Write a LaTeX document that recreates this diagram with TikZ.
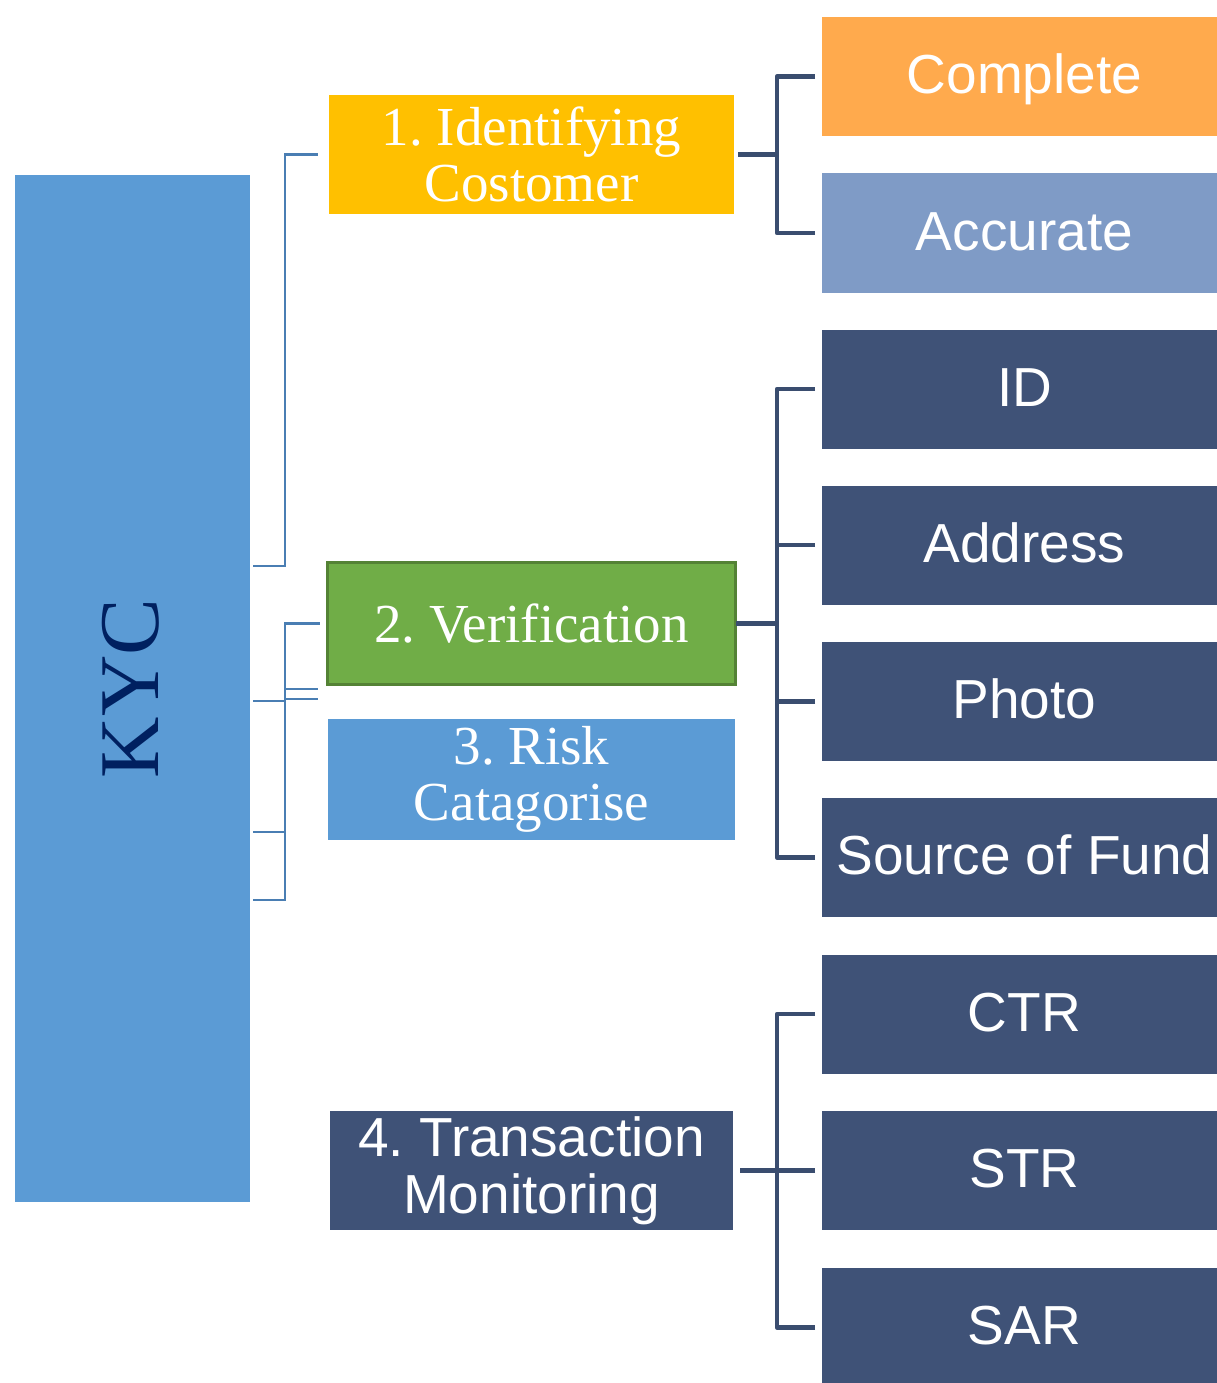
\documentclass[tikz,border=0pt]{standalone}
\usepackage{fontspec}
\setmainfont{Liberation Serif}
\setsansfont{Liberation Sans}
\frenchspacing
\definecolor{kycblue}{HTML}{5B9BD5}
\definecolor{kycnavy}{HTML}{002060}
\definecolor{gold}{HTML}{FFC000}
\definecolor{leaf}{HTML}{70AD47}
\definecolor{leafedge}{HTML}{548235}
\definecolor{slate}{HTML}{3F5277}
\definecolor{peach}{HTML}{FFAA4D}
\definecolor{haze}{HTML}{7F9BC6}
\definecolor{trunk}{HTML}{3A4D6F}
\definecolor{thinline}{HTML}{4A7EB3}
\tikzset{
  box/.style={rectangle, inner sep=0pt, outer sep=0pt, text=white, align=center},
  serifbox/.style={box, font=\fontsize{55}{56}\selectfont\rmfamily\frenchspacing},
  sansbox/.style={box, font=\fontsize{55}{57}\selectfont\sffamily\frenchspacing},
  leafbox/.style={sansbox, minimum width=405pt, minimum height=119pt,
                  text height=39.6pt, text depth=5.5pt},
  rconn/.style={draw=trunk, line width=4.5pt, line join=round},
  lconn/.style={draw=thinline, line width=2.5pt}
}
\begin{document}
\begin{tikzpicture}[x=1pt, y=-1pt]
\useasboundingbox (0,0) rectangle (1217,1383);
\clip (0,0) rectangle (1217,1383);

% root
\node[box, fill=kycblue, minimum width=235pt, minimum height=1027pt] (kyc) at (132.5,688.5) {};
\node[text=kycnavy, font=\fontsize{85}{85}\selectfont\rmfamily, rotate=90, inner sep=0pt] (kyctext) at (130.5,688.5) {KYC};

% stages
\node[serifbox, fill=gold, minimum width=405pt, minimum height=119pt] (n1) at (531.5,154.5) {1. Identifying\\Costomer};
\node[serifbox, fill=leaf, draw=leafedge, line width=3pt, minimum width=408pt, minimum height=122pt] (n2) at (531.5,623.5) {2. Verification};
\node[serifbox, fill=kycblue, minimum width=407pt, minimum height=121pt] (n3) at (531.5,779.5) {3. Risk\\Catagorise};
\node[sansbox, fill=slate, minimum width=403pt, minimum height=119pt] (n4) at (531.5,1170.5) {4. Transaction\\Monitoring};

% details
\node[leafbox, fill=peach] (comp) at (1024.5,76.5) {Complete};
\node[leafbox, fill=haze]  (accu) at (1024.5,233) {Accurate};
\node[leafbox, fill=slate] (id)   at (1024.5,389) {ID};
\node[leafbox, fill=slate] (addr) at (1024.5,545) {Address};
\node[leafbox, fill=slate] (photo) at (1024.5,701.5) {Photo};
\node[leafbox, fill=slate] (src)  at (1024.5,857.5) {Source of Fund};
\node[leafbox, fill=slate] (ctr)  at (1024.5,1014) {CTR};
\node[leafbox, fill=slate] (str)  at (1024.5,1170.5) {STR};
\node[leafbox, fill=slate] (sar)  at (1024.5,1327.5) {SAR};

% trunk line of the right-hand brackets
\coordinate (tr) at (777,0);

\foreach \c in {comp,accu}
  \draw[rconn] ([xshift=-7pt]\c.west) -| (tr |- n1.east) -- ([xshift=4pt]n1.east);
\foreach \c in {id,addr,photo,src}
  \draw[rconn] ([xshift=-7pt]\c.west) -| (tr |- n2.east) -- (n2.east);
\foreach \c in {ctr,str,sar}
  \draw[rconn] ([xshift=-7pt]\c.west) -| (tr |- n4.east) -- ([xshift=7pt]n4.east);

% thin elbows from the root
\coordinate (k1) at (253,566);
\coordinate (k2) at (253,701);
\coordinate (k3) at (253,832);
\coordinate (k4) at (253,900);
\coordinate (e3) at (318,689);
\coordinate (e4) at (318,699);
\coordinate (lt) at (285,0);

\draw[lconn] (k1) -| (lt |- n1.west) -- ([xshift=-11pt]n1.west);
\draw[lconn] (k2) -| (lt |- n2.west) -- ([xshift=-8pt]n2.west);
\draw[lconn] (k3) -| (lt |- e3) -- (e3);
\draw[lconn] (k4) -| (lt |- e4) -- (e4);
\end{tikzpicture}
\end{document}
